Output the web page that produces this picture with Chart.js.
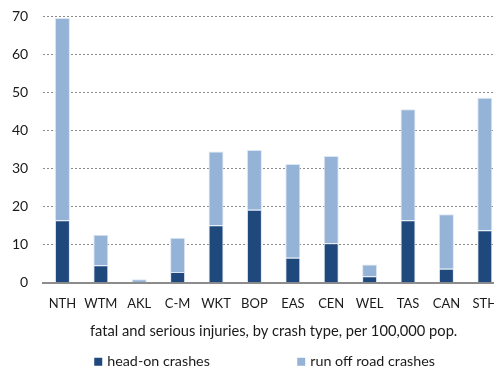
<!DOCTYPE html>
<html>
<head>
<meta charset="utf-8">
<script src="https://cdn.jsdelivr.net/npm/chart.js@4/dist/chart.umd.min.js"></script>
<style>
  html, body { margin: 0; padding: 0; background: #fff; overflow: hidden; }
  #wrap { position: relative; width: 520px; height: 378px; margin-left: -3px; margin-top: -7px; }
</style>
</head>
<body>
<div id="wrap"><canvas id="c" width="520" height="378"></canvas></div>
<script>
// Regions
const regions = ['NTH', 'WTM', 'AKL', 'C-M', 'WKT', 'BOP', 'EAS', 'CEN', 'WEL', 'TAS', 'CAN', 'STH'];
// Fatal and serious injuries per 100,000 population, by crash type
const headOn   = [16.4, 4.6, 0.0, 2.8, 15.1, 19.2, 6.6, 10.4, 1.7, 16.4, 3.7, 13.8];
const runOff   = [53.2, 8.0, 0.9, 9.0, 19.4, 15.7, 24.6, 22.9, 3.1, 29.2, 14.3, 34.8];
const yTicks   = [0, 10, 20, 30, 40, 50, 60, 70];

const FONT = 'Lato, "Open Sans", sans-serif';
const DARK = '#1F497D';
const LIGHT = '#95B3D7';

// Legend drawn below the axis title with wide, evenly spaced slots
const bottomLegend = {
  id: 'bottomLegend',
  afterDraw(chart) {
    const ctx = chart.ctx;
    const area = chart.chartArea;
    const y = area.bottom + 79;
    let x = area.left + 51;
    const slot = 203;
    ctx.save();
    ctx.font = '14.3px ' + FONT;
    ctx.textBaseline = 'middle';
    ctx.textAlign = 'left';
    chart.data.datasets.forEach((ds) => {
      ctx.fillStyle = ds.backgroundColor;
      ctx.fillRect(x, y - 4, 8, 8);
      ctx.fillStyle = '#1a1a1a';
      ctx.fillText(ds.label, x + 13, y);
      x += slot;
    });
    ctx.restore();
  }
};

new Chart(document.getElementById('c'), {
  type: 'bar',
  data: {
    labels: regions,
    datasets: [
      { label: 'head-on crashes', data: headOn, backgroundColor: DARK,
        borderColor: '#dce6f2', borderWidth: 1 },
      { label: 'run off road crashes', data: runOff, backgroundColor: LIGHT,
        borderColor: '#dce6f2', borderWidth: 1 }
    ]
  },
  options: {
    responsive: false,
    animation: false,
    devicePixelRatio: 1,
    layout: { padding: { left: 0, right: 13, top: 0, bottom: 31 } },
    datasets: { bar: { categoryPercentage: 1, barPercentage: 0.39 } },
    plugins: {
      legend: { display: false },
      tooltip: { enabled: false }
    },
    scales: {
      x: {
        stacked: true,
        grid: { display: false, drawTicks: false },
        border: { display: true, color: '#8c8c8c', width: 2 },
        ticks: { color: '#1a1a1a', font: { family: FONT, size: 13 }, padding: 13, maxRotation: 0, autoSkip: false },
        title: {
          display: true,
          text: 'fatal and serious injuries, by crash type, per 100,000 pop.',
          color: '#1a1a1a',
          font: { family: FONT, size: 14.7 },
          padding: { top: -2, bottom: 0 }
        }
      },
      y: {
        stacked: true,
        min: 0,
        max: 70,
        afterBuildTicks(scale) { scale.ticks = yTicks.map(v => ({ value: v })); },
        grid: { color: '#8c8c8c', lineWidth: 1, drawTicks: false },
        border: { display: false, dash: [2, 2] },
        ticks: { color: '#1a1a1a', font: { family: FONT, size: 14 }, padding: 15 }
      }
    }
  },
  plugins: [bottomLegend]
});
</script>
</body>
</html>
